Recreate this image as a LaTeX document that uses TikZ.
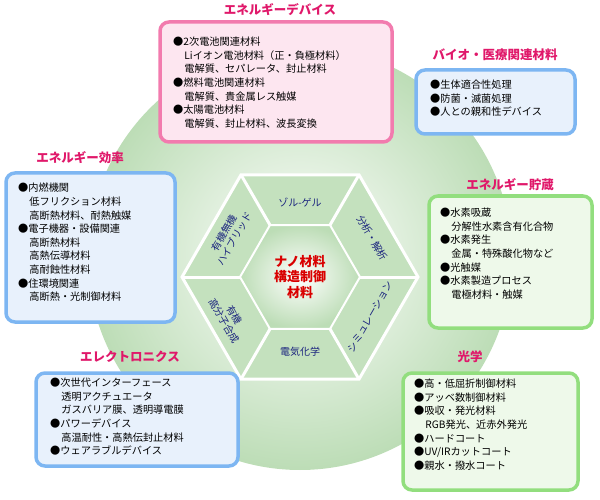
\documentclass[tikz,border=0pt]{standalone}
\usepackage{fontspec}
\setmainfont{Noto Sans CJK JP}
\usetikzlibrary{calc}
\definecolor{ttl}{HTML}{E0186A}
\definecolor{pkf}{HTML}{FDE6F0}\definecolor{pkd}{HTML}{F27BAE}
\definecolor{blf}{HTML}{E8F1FC}\definecolor{bld}{HTML}{7DB6F2}
\definecolor{gnf}{HTML}{EEF9EA}\definecolor{gnd}{HTML}{92DE7E}
\definecolor{hexf}{HTML}{B5D9AE}\definecolor{navy}{HTML}{1A237E}
\tikzset{
 box/.style={draw,line width=3.5pt,rounded corners=9pt},
 ttlst/.style={text=ttl,font=\fontsize{12.5}{14}\selectfont\bfseries},
 body/.style={align=left,anchor=north west,font=\fontsize{10.2}{13.6}\selectfont,inner sep=0pt},
 hx/.style={text=navy,font=\fontsize{10}{12}\selectfont,align=center}
}
\newcommand{\ind}{\hspace*{1.1em}}
\begin{document}
\begin{tikzpicture}[x=1pt,y=-1pt]
\useasboundingbox (0,0) rectangle (600,500);
\shade[inner color=white,outer color=hexf!90] (300,258) circle (212);
% hexagons
\coordinate (c) at (300,277);
\fill[hexf!80,draw=white,line width=3pt] ($(c)+(0:118)$) -- ($(c)+(60:118)$) -- ($(c)+(120:118)$) -- ($(c)+(180:118)$) -- ($(c)+(240:118)$) -- ($(c)+(300:118)$) -- cycle;
\foreach \a in {0,60,...,300}{\draw[white,line width=3pt] ($(c)+(\a:60)$) -- ($(c)+(\a:118)$);}
\shade[inner color=white,outer color=hexf!90,draw=white,line width=2pt] ($(c)+(0:60)$) -- ($(c)+(60:60)$) -- ($(c)+(120:60)$) -- ($(c)+(180:60)$) -- ($(c)+(240:60)$) -- ($(c)+(300:60)$) -- cycle;
\node[text=red!85!black,font=\fontsize{13}{15.5}\selectfont\bfseries,align=center] (ctr) at (c) {ナノ材料\\構造制御\\材料};
\node[hx] (s1) at (300,203) {ゾル-ゲル};
\node[hx,rotate=-60] (s2) at (372,238) {分析・解析};
\node[hx,rotate=60] (s3) at (370,317) {シミュレーション};
\node[hx] (s4) at (300,352) {電気化学};
\node[hx,rotate=-60] (s5) at (229,318) {有機\\高分子合成};
\node[hx,rotate=60] (s6) at (229,236) {有機無機\\ハイブリッド};
% boxes
\draw[box,fill=pkf,draw=pkd] (160,22) rectangle (392,142);
\node[ttlst] (t1) at (280,10) {エネルギーデバイス};
\node[body] (b1) at (173,37) {●2次電池関連材料\\\ind Liイオン電池材料（正・負極材料）\\\ind 電解質、セパレータ、封止材料\\●燃料電池関連材料\\\ind 電解質、貴金属レス触媒\\●太陽電池材料\\\ind 電解質、封止材料、波長変換};
\draw[box,fill=blf,draw=bld] (416,70) rectangle (575,134);
\node[ttlst] (t2) at (495,55) {バイオ・医療関連材料};
\node[body] (b2) at (430,80) {●生体適合性処理\\●防菌・滅菌処理\\●人との親和性デバイス};
\draw[box,fill=blf,draw=bld] (6,173) rectangle (175,322);
\node[ttlst] (t3) at (80,158) {エネルギー効率};
\node[body] (b3) at (18,183) {●内燃機関\\\ind 低フリクション材料\\\ind 高断熱材料、耐熱触媒\\●電子機器・設備関連\\\ind 高断熱材料\\\ind 高熱伝導材料\\\ind 高耐蝕性材料\\●住環境関連\\\ind 高断熱・光制御材料};
\draw[box,fill=gnf,draw=gnd] (429,196) rectangle (592,328);
\node[ttlst] (t4) at (510,185) {エネルギー貯蔵};
\node[body] (b4) at (440,208) {●水素吸蔵\\\ind 分解性水素含有化合物\\●水素発生\\\ind 金属・特殊酸化物など\\●光触媒\\●水素製造プロセス\\\ind 電極材料・触媒};
\draw[box,fill=blf,draw=bld] (36,373) rectangle (238,466);
\node[ttlst] (t5) at (130,357) {エレクトロニクス};
\node[body] (b5) at (50,378) {●次世代インターフェース\\\ind 透明アクチュエータ\\\ind ガスバリア膜、透明導電膜\\●パワーデバイス\\\ind 高温耐性・高熱伝封止材料\\●ウェアラブルデバイス};
\draw[box,fill=gnf,draw=gnd] (403,373) rectangle (578,490);
\node[ttlst] (t6) at (470,357) {光学};
\node[body] (b6) at (414,379) {●高・低屈折制御材料\\●アッベ数制御材料\\●吸収・発光材料\\\ind RGB発光、近赤外発光\\●ハードコート\\●UV/IRカットコート\\●親水・撥水コート};
\end{tikzpicture}
\end{document}
